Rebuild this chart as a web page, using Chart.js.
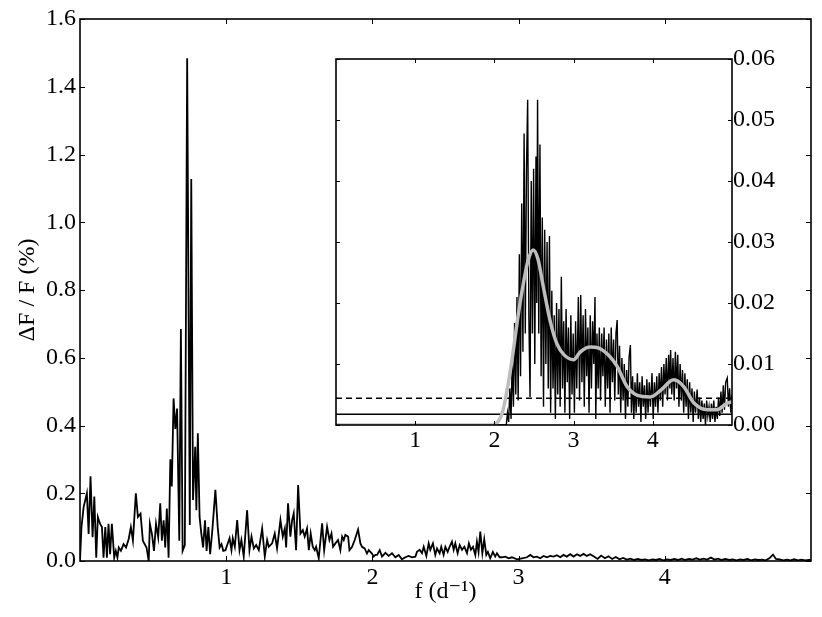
<!DOCTYPE html>
<html>
<head>
<meta charset="utf-8">
<script src="https://cdn.jsdelivr.net/npm/chart.js@4/dist/chart.umd.min.js"></script>
<style>
html,body{margin:0;padding:0;background:#fff;}
#wrap{position:relative;width:822px;height:617px;}
#main{position:absolute;left:0;top:0;}
#inset{position:absolute;left:300px;top:40px;}
</style>
</head>
<body>
<div id="wrap">
<canvas id="main" width="822" height="617"></canvas>
<canvas id="inset" width="500" height="420"></canvas>
</div>
<script>
// ---------- DATA ----------
const mainXTicks = [1, 2, 3, 4];
const mainYTicks = [0, 0.2, 0.4, 0.6, 0.8, 1.0, 1.2, 1.4, 1.6];
const insetXTicks = [1, 2, 3, 4];
const insetYTicks = [0, 0.01, 0.02, 0.03, 0.04, 0.05, 0.06];

// main amplitude spectrum: [frequency (1/d), amplitude (%)]
const mainSpectrum = [
[0.000,0.000],[0.010,0.100],[0.025,0.160],[0.047,0.200],[0.059,0.080],[0.072,0.250],[0.086,0.070],[0.098,0.190],
[0.111,0.010],[0.122,0.130],[0.137,0.110],[0.150,0.100],[0.161,0.010],[0.173,0.100],[0.184,0.010],[0.195,0.110],
[0.206,0.020],[0.218,0.110],[0.234,0.010],[0.245,0.030],[0.256,0.010],[0.265,0.040],[0.280,0.030],[0.298,0.050],
[0.315,0.040],[0.333,0.065],[0.348,0.100],[0.362,0.060],[0.382,0.200],[0.396,0.130],[0.414,0.140],[0.430,0.060],
[0.442,0.050],[0.455,0.040],[0.470,0.000],[0.478,0.110],[0.492,0.080],[0.506,0.030],[0.520,0.110],[0.535,0.070],
[0.549,0.170],[0.560,0.060],[0.572,0.120],[0.583,0.040],[0.594,0.155],[0.606,0.010],[0.618,0.300],[0.628,0.220],
[0.640,0.480],[0.652,0.390],[0.664,0.450],[0.679,0.060],[0.690,0.685],[0.702,0.030],[0.717,0.047],[0.733,1.484],
[0.751,0.106],[0.761,1.128],[0.773,0.180],[0.788,0.337],[0.796,0.150],[0.806,0.377],[0.818,0.130],[0.830,0.080],
[0.842,0.040],[0.855,0.120],[0.866,0.030],[0.878,0.100],[0.890,0.020],[0.905,0.090],[0.926,0.210],[0.942,0.100],
[0.955,0.040],[0.968,0.050],[0.980,0.030],[0.995,0.032],[1.007,0.047],[1.023,0.067],[1.036,0.032],[1.045,0.067],
[1.059,0.042],[1.075,0.121],[1.091,0.032],[1.104,0.062],[1.120,0.013],[1.143,0.150],[1.159,0.032],[1.173,0.072],
[1.189,0.037],[1.205,0.047],[1.223,0.032],[1.246,0.096],[1.264,0.013],[1.280,0.062],[1.291,0.042],[1.314,0.052],
[1.332,0.081],[1.348,0.037],[1.371,0.121],[1.387,0.072],[1.401,0.096],[1.410,0.040],[1.423,0.170],[1.439,0.072],
[1.451,0.121],[1.462,0.141],[1.478,0.032],[1.492,0.224],[1.508,0.081],[1.524,0.091],[1.537,0.072],[1.553,0.096],
[1.565,0.032],[1.578,0.081],[1.592,0.042],[1.606,0.032],[1.615,0.042],[1.633,0.008],[1.656,0.111],[1.670,0.032],
[1.690,0.101],[1.706,0.062],[1.720,0.081],[1.731,0.042],[1.747,0.052],[1.765,0.062],[1.781,0.032],[1.793,0.072],
[1.804,0.062],[1.815,0.077],[1.834,0.072],[1.843,0.032],[1.861,0.042],[1.879,0.062],[1.902,0.093],[1.918,0.052],
[1.929,0.042],[1.947,0.037],[1.963,0.022],[1.975,0.032],[1.997,0.022],[2.009,0.013],[2.020,0.018],[2.032,0.018],
[2.050,0.032],[2.066,0.013],[2.089,0.024],[2.111,0.015],[2.134,0.023],[2.157,0.011],[2.180,0.018],[2.202,0.005],
[2.225,0.011],[2.248,0.015],[2.271,0.011],[2.294,0.013],[2.305,0.027],[2.323,0.033],[2.339,0.023],[2.351,0.042],
[2.369,0.015],[2.385,0.052],[2.396,0.033],[2.414,0.052],[2.430,0.018],[2.442,0.037],[2.460,0.023],[2.471,0.042],
[2.487,0.018],[2.499,0.042],[2.515,0.027],[2.528,0.042],[2.544,0.057],[2.556,0.033],[2.567,0.052],[2.583,0.023],
[2.597,0.047],[2.613,0.033],[2.629,0.042],[2.647,0.023],[2.660,0.052],[2.674,0.033],[2.688,0.042],[2.704,0.018],
[2.715,0.057],[2.726,0.027],[2.738,0.087],[2.752,0.023],[2.765,0.064],[2.779,0.018],[2.790,0.027],[2.806,0.008],
[2.824,0.027],[2.840,0.013],[2.852,0.023],[2.870,0.011],[2.886,0.011],[2.909,0.013],[2.932,0.008],[2.954,0.011],
[2.989,0.005],[3.023,0.008],[3.057,0.011],[3.080,0.018],[3.102,0.011],[3.125,0.013],[3.148,0.008],[3.171,0.015],
[3.194,0.011],[3.216,0.015],[3.239,0.013],[3.262,0.017],[3.285,0.011],[3.307,0.018],[3.330,0.013],[3.353,0.020],
[3.376,0.013],[3.399,0.020],[3.421,0.015],[3.444,0.021],[3.467,0.015],[3.490,0.020],[3.515,0.013],[3.540,0.006],
[3.565,0.016],[3.590,0.008],[3.615,0.014],[3.640,0.006],[3.665,0.012],[3.690,0.005],[3.715,0.009],[3.740,0.004],
[3.765,0.007],[3.790,0.003],[3.815,0.006],[3.840,0.003],[3.865,0.005],[3.890,0.002],[3.915,0.005],[3.940,0.003],
[3.965,0.006],[3.990,0.002],[4.015,0.005],[4.040,0.003],[4.065,0.006],[4.090,0.003],[4.115,0.007],[4.140,0.003],
[4.165,0.006],[4.190,0.004],[4.215,0.008],[4.240,0.004],[4.265,0.007],[4.290,0.004],[4.315,0.010],[4.340,0.004],
[4.365,0.007],[4.390,0.003],[4.415,0.006],[4.440,0.003],[4.465,0.005],[4.490,0.002],[4.515,0.005],[4.540,0.003],
[4.565,0.006],[4.590,0.002],[4.615,0.005],[4.640,0.003],[4.665,0.004],[4.690,0.002],[4.715,0.008],[4.740,0.019],
[4.760,0.006],[4.785,0.005],[4.810,0.002],[4.835,0.004],[4.860,0.002],[4.885,0.005],[4.910,0.002],[4.935,0.004],
[4.960,0.002],[4.985,0.003],[5.000,0.003]
];

// inset spectrum: [frequency, amplitude]
const insetSpectrum = [
[0.000,0.0000],[2.150,0.0000],[2.165,0.0020],[2.180,0.0005],[2.195,0.0060],[2.210,0.0010],[2.225,0.0110],[2.240,0.0030],
[2.255,0.0167],[2.270,0.0050],[2.285,0.0210],[2.300,0.0040],[2.315,0.0280],[2.330,0.0080],[2.345,0.0363],[2.360,0.0120],
[2.375,0.0478],[2.390,0.0150],[2.405,0.0420],[2.420,0.0533],[2.435,0.0180],[2.450,0.0046],[2.465,0.0400],[2.480,0.0150],
[2.495,0.0420],[2.510,0.0100],[2.525,0.0440],[2.535,0.0200],[2.545,0.0533],[2.560,0.0150],[2.575,0.0460],[2.590,0.0080],
[2.605,0.0340],[2.620,0.0030],[2.635,0.0320],[2.650,0.0100],[2.665,0.0300],[2.680,0.0060],[2.695,0.0310],[2.710,0.0020],
[2.725,0.0220],[2.740,0.0060],[2.755,0.0180],[2.770,0.0010],[2.785,0.0200],[2.800,0.0050],[2.815,0.0190],[2.830,0.0030],
[2.845,0.0243],[2.860,0.0060],[2.875,0.0170],[2.890,0.0020],[2.905,0.0190],[2.920,0.0070],[2.935,0.0160],[2.950,0.0010],
[2.965,0.0180],[2.980,0.0050],[2.995,0.0150],[3.010,0.0020],[3.025,0.0170],[3.040,0.0060],[3.060,0.0210],[3.075,0.0040],
[3.090,0.0213],[3.105,0.0070],[3.120,0.0180],[3.135,0.0030],[3.150,0.0190],[3.165,0.0080],[3.180,0.0160],[3.195,0.0020],
[3.210,0.0180],[3.225,0.0060],[3.240,0.0170],[3.255,0.0100],[3.270,0.0210],[3.280,0.0010],[3.295,0.0150],[3.310,0.0060],
[3.325,0.0160],[3.340,0.0040],[3.355,0.0150],[3.370,0.0080],[3.385,0.0160],[3.400,0.0030],[3.415,0.0140],[3.430,0.0060],
[3.445,0.0150],[3.460,0.0020],[3.475,0.0160],[3.490,0.0070],[3.505,0.0140],[3.520,0.0040],[3.535,0.0150],[3.550,0.0172],
[3.565,0.0050],[3.580,0.0130],[3.595,0.0020],[3.610,0.0110],[3.625,0.0040],[3.640,0.0100],[3.655,0.0010],[3.670,0.0090],
[3.685,0.0030],[3.700,0.0110],[3.717,0.0131],[3.730,0.0020],[3.745,0.0080],[3.760,0.0010],[3.775,0.0070],[3.790,0.0020],
[3.805,0.0085],[3.820,0.0030],[3.835,0.0070],[3.850,0.0005],[3.865,0.0080],[3.880,0.0030],[3.895,0.0065],[3.910,0.0010],
[3.925,0.0075],[3.940,0.0020],[3.955,0.0070],[3.970,0.0030],[3.990,0.0085],[4.005,0.0010],[4.020,0.0070],[4.035,0.0030],
[4.050,0.0080],[4.065,0.0020],[4.080,0.0085],[4.095,0.0040],[4.110,0.0095],[4.125,0.0030],[4.140,0.0100],[4.155,0.0050],
[4.170,0.0110],[4.185,0.0040],[4.200,0.0115],[4.215,0.0060],[4.225,0.0123],[4.240,0.0050],[4.255,0.0110],[4.270,0.0040],
[4.285,0.0120],[4.300,0.0060],[4.315,0.0115],[4.330,0.0030],[4.345,0.0100],[4.360,0.0040],[4.375,0.0090],[4.390,0.0020],
[4.405,0.0085],[4.420,0.0030],[4.435,0.0075],[4.450,0.0010],[4.465,0.0070],[4.480,0.0020],[4.495,0.0060],[4.510,0.0005],
[4.525,0.0055],[4.540,0.0020],[4.560,0.0058],[4.575,0.0010],[4.590,0.0045],[4.605,0.0005],[4.620,0.0040],[4.635,0.0010],
[4.650,0.0035],[4.665,0.0000],[4.680,0.0040],[4.695,0.0015],[4.710,0.0030],[4.725,0.0005],[4.740,0.0035],[4.755,0.0010],
[4.770,0.0040],[4.785,0.0005],[4.800,0.0030],[4.815,0.0010],[4.830,0.0045],[4.845,0.0015],[4.860,0.0055],[4.875,0.0020],
[4.890,0.0065],[4.905,0.0025],[4.920,0.0070],[4.940,0.0077],[4.955,0.0030],[4.970,0.0060],[4.985,0.0020],[5.000,0.0050]
];

// smoothed spectrum (gray curve)
const insetSmooth = [
[0.00,0.0000],[1.00,0.0000],[1.98,0.0000],[2.05,0.0006],[2.10,0.0020],[2.16,0.0057],[2.22,0.0105],[2.30,0.0180],
[2.37,0.0235],[2.43,0.0272],[2.49,0.0287],[2.55,0.0272],[2.62,0.0225],[2.705,0.0170],[2.79,0.0133],[2.88,0.0115],
[3.00,0.0107],[3.085,0.0120],[3.21,0.0128],[3.32,0.0126],[3.46,0.0112],[3.55,0.0096],[3.675,0.0063],[3.80,0.0049],
[3.97,0.0046],[4.10,0.0057],[4.265,0.0074],[4.39,0.0063],[4.52,0.0036],[4.69,0.0025],[4.81,0.0025],[4.94,0.0036],[5.00,0.0038]
];

// significance levels
const solidLevel = 0.00175;
const dashedLevel = 0.0044;
const levelRange = [0, 5];

// ---------- HELPERS ----------
const FONT = "'Liberation Serif', 'DejaVu Serif', serif";
const toXY = arr => arr.map(p => ({x: p[0], y: p[1]}));

const frameTicks = (len) => ({
  id: 'frameTicks',
  afterDatasetsDraw(chart) {
    const {ctx, chartArea: {left, right, top, bottom}} = chart;
    const xs = chart.scales.x;
    const ys = chart.scales.y;
    ctx.save();
    ctx.strokeStyle = '#000';
    ctx.lineWidth = 1;
    xs.ticks.forEach(t => {
      const px = Math.round(xs.getPixelForValue(t.value)) + 0.5;
      ctx.beginPath();
      ctx.moveTo(px, bottom); ctx.lineTo(px, bottom - len);
      ctx.moveTo(px, top); ctx.lineTo(px, top + len);
      ctx.stroke();
    });
    ys.ticks.forEach(t => {
      const py = Math.round(ys.getPixelForValue(t.value)) + 0.5;
      ctx.beginPath();
      ctx.moveTo(left, py); ctx.lineTo(left + len, py);
      ctx.moveTo(right, py); ctx.lineTo(right - len, py);
      ctx.stroke();
    });
    ctx.lineWidth = 1.6;
    ctx.strokeRect(left, top, right - left, bottom - top);
    ctx.restore();
  }
});

// ---------- MAIN CHART ----------
new Chart(document.getElementById('main'), {
  type: 'line',
  data: {
    datasets: [{
      data: toXY(mainSpectrum),
      borderColor: '#000',
      borderWidth: 1.8,
      pointRadius: 0,
      tension: 0,
      fill: false
    }]
  },
  options: {
    responsive: false,
    animation: false,
    devicePixelRatio: 1,
    layout: {padding: {left: 0, right: 11, top: 19, bottom: 0}},
    plugins: {legend: {display: false}, tooltip: {enabled: false}},
    scales: {
      x: {
        type: 'linear', min: 0, max: 5,
        afterBuildTicks: s => { s.ticks = mainXTicks.map(v => ({value: v})); },
        afterFit: s => { s.height = 56; },
        grid: {display: false, drawTicks: false},
        border: {display: false},
        ticks: {color: '#000', padding: 2, font: {family: FONT, size: 24}, callback: v => String(v)},
        title: {display: true, text: 'f (d⁻¹)', color: '#000', font: {family: FONT, size: 24}, padding: {top: 0, bottom: 11}}
      },
      y: {
        type: 'linear', min: 0, max: 1.6,
        afterBuildTicks: s => { s.ticks = mainYTicks.map(v => ({value: v})); },
        afterFit: s => { s.width = 80; },
        grid: {display: false, drawTicks: false},
        border: {display: false},
        ticks: {color: '#000', padding: 4, font: {family: FONT, size: 24}, callback: v => Number(v).toFixed(1)},
        title: {display: true, text: 'ΔF / F (%)', color: '#000', font: {family: FONT, size: 24}, padding: {top: 13, bottom: 0}}
      }
    }
  },
  plugins: [frameTicks(5)]
});

// ---------- INSET CHART ----------
new Chart(document.getElementById('inset'), {
  type: 'line',
  data: {
    datasets: [
      {
        data: toXY(insetSmooth),
        borderColor: '#bdbdbd',
        borderWidth: 3.5,
        pointRadius: 0,
        cubicInterpolationMode: 'monotone',
        fill: false,
        order: 0
      },
      {
        data: toXY(insetSpectrum),
        borderColor: '#000',
        borderWidth: 1.4,
        pointRadius: 0,
        tension: 0,
        fill: false,
        order: 1
      },
      {
        data: levelRange.map(f => ({x: f, y: dashedLevel})),
        borderColor: '#000',
        borderWidth: 1.5,
        borderDash: [6, 4],
        pointRadius: 0,
        fill: false,
        order: 2
      },
      {
        data: levelRange.map(f => ({x: f, y: solidLevel})),
        borderColor: '#000',
        borderWidth: 1.5,
        pointRadius: 0,
        fill: false,
        order: 3
      }
    ]
  },
  options: {
    responsive: false,
    animation: false,
    devicePixelRatio: 1,
    layout: {padding: {left: 36, right: 0, top: 19, bottom: 0}},
    plugins: {legend: {display: false}, tooltip: {enabled: false}},
    scales: {
      x: {
        type: 'linear', min: 0, max: 5,
        afterBuildTicks: s => { s.ticks = insetXTicks.map(v => ({value: v})); },
        afterFit: s => { s.height = 35; },
        grid: {display: false, drawTicks: false},
        border: {display: false},
        ticks: {color: '#000', padding: 1, font: {family: FONT, size: 24}, callback: v => String(v)}
      },
      y: {
        type: 'linear', position: 'right', min: 0, max: 0.06,
        afterBuildTicks: s => { s.ticks = insetYTicks.map(v => ({value: v})); },
        afterFit: s => { s.width = 68; },
        grid: {display: false, drawTicks: false},
        border: {display: false},
        ticks: {color: '#000', padding: 1, font: {family: FONT, size: 24}, callback: v => Number(v).toFixed(2)}
      }
    }
  },
  plugins: [frameTicks(4)]
});
</script>
</body>
</html>
